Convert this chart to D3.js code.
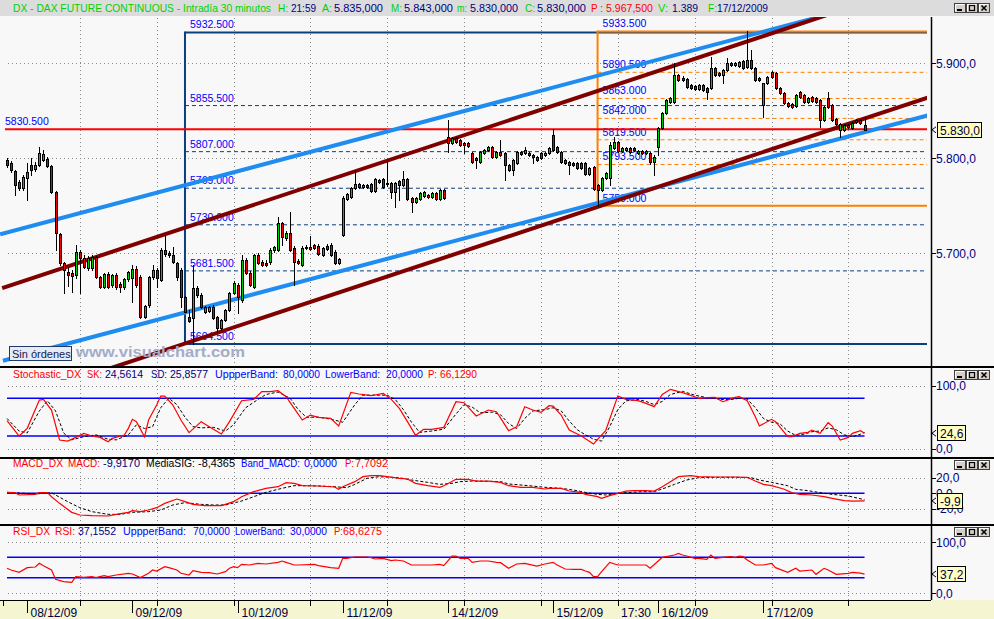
<!DOCTYPE html>
<html><head><meta charset="utf-8">
<script src="https://cdn.jsdelivr.net/npm/d3@7/dist/d3.min.js"></script>
<style>
html,body{margin:0;padding:0;background:#f8f8f8;overflow:hidden}
svg{display:block;font-family:"Liberation Sans",Arial,sans-serif}
</style></head><body>
<svg id="c" width="994" height="619"></svg>
<script>
// ---------- DATA ----------
const opens = [5798,5795,5786.5,5775,5768.5,5779,5793,5788.5,5793,5798,
5799,5792,5764.5,5720.5,5690,5680.5,5679,5677,5701.5,5695,
5684.5,5684.5,5696,5675,5664.5,5678,5666.5,5677,5667.5,5664.5,
5673,5674,5683.5,5675,5633,5645.5,5675,5682.5,5672,5703.5,
5700.5,5698,5690,5682.5,5654,5633,5632,5663.5,5656,5638,
5639,5643.5,5633,5621.5,5630,5640.5,5658,5666.5,5651,5693,
5679,5664.5,5698,5691,5690,5691,5703.5,5703.5,5732,5716,
5721.5,5705.5,5692,5687.5,5706.5,5706.5,5708.5,5707.5,5698,5707.5,
5708.5,5701.5,5690,5719,5757,5759,5768.5,5773,5770,5772,
5773,5765.5,5777,5778,5774,5774,5764.5,5776,5772,5778,
5758,5754,5757,5760.5,5761.5,5759,5763.5,5757,5766.5,5822.5,
5816,5821.5,5819,5816,5816,5805.5,5800.5,5796,5805.5,5808.5,
5812,5801.5,5806.5,5805.5,5793,5787.5,5795,5806.5,5805.5,5805.5,
5803.5,5801.5,5805.5,5803.5,5805.5,5824.5,5812,5806.5,5798,5796,
5795,5795,5795,5795,5783.5,5791,5772,5766.5,5779,5779,
5811,5817,5807.5,5808.5,5811,5811,5805.5,5807.5,5805.5,5805.5,
5796,5812,5832,5847.5,5859,5859,5887.5,5884.5,5883.5,5877,
5876,5873,5877,5874,5874,5895,5890,5887.5,5893,5900.5,
5898,5897,5902.5,5896,5903.5,5895,5884.5,5856,5879,5891,
5890,5874,5868.5,5858,5857,5855,5870,5866.5,5859,5864.5,
5863.5,5861.5,5840.5,5863.5,5856,5841.5,5830,5830,5835,5832,
5840.5,5840.5,5835];
const highs = [5800.5,5797,5787.5,5777,5782.5,5795,5800.5,5796,5812,5808.5,
5801.5,5793,5765.5,5721.5,5691,5684.5,5682.5,5708.5,5703.5,5698,
5697,5698,5697,5676,5679,5680.5,5678,5679,5670,5674,
5681.5,5687.5,5686.5,5677,5645.5,5676,5687.5,5684.5,5705.5,5719,
5702.5,5706.5,5691,5684.5,5655,5640.5,5687.5,5665.5,5658,5644.5,
5644.5,5645.5,5634,5631,5641.5,5659,5671,5668.5,5698,5695,
5681.5,5699,5700.5,5693,5693,5705.5,5707.5,5738,5733,5723.5,
5743.5,5707.5,5694,5707.5,5708.5,5718,5710,5710,5706.5,5710,
5711,5703.5,5695,5760.5,5763.5,5770,5786.5,5774,5773,5773,
5774,5779,5778,5779,5796,5775,5775,5777,5786.5,5779,
5759,5759,5764.5,5765.5,5762.5,5764.5,5764.5,5767.5,5767.5,5840.5,
5822.5,5822.5,5820.5,5817,5817,5806.5,5801.5,5807.5,5810,5813,
5813,5807.5,5819,5806.5,5794,5799,5807.5,5807.5,5812,5806.5,
5804.5,5802.5,5806.5,5806.5,5812,5830.5,5813,5807.5,5799,5797,
5796,5796,5796,5796,5791,5792,5773,5780.5,5785.5,5817,
5822.5,5818,5812,5812,5812,5812,5808.5,5808.5,5808.5,5806.5,
5803.5,5833,5848.5,5862.5,5864.5,5900.5,5888.5,5886.5,5884.5,5878,
5877,5878,5878,5875,5906.5,5896,5891,5894,5905.5,5901.5,
5901.5,5902.5,5903.5,5933.5,5914,5896,5885.5,5857,5886.5,5892,
5891,5875,5870,5859,5858,5867.5,5871,5867.5,5864.5,5865.5,
5864.5,5862.5,5855,5870,5857,5842.5,5837,5836,5836,5838,
5841.5,5841.5,5843];
const lows = [5791,5785.5,5761.5,5766.5,5766.5,5756,5782.5,5786.5,5792,5797,
5791,5763.5,5703.5,5687.5,5658,5665.5,5659,5674,5658,5684.5,
5682.5,5682.5,5674,5663.5,5663.5,5663.5,5664.5,5662.5,5659,5662.5,
5671,5648.5,5664.5,5632,5632,5643.5,5673,5664.5,5671,5697,
5696,5690,5672,5643.5,5638,5627.5,5604.5,5654,5642.5,5637,
5638,5631,5617,5619,5628.5,5639,5657,5637,5648.5,5678,
5665.5,5663.5,5688.5,5686.5,5686.5,5688.5,5701.5,5702.5,5708.5,5714,
5702.5,5666.5,5688.5,5686.5,5704.5,5703.5,5704.5,5698,5697,5703.5,
5697,5688.5,5688.5,5718,5756,5758,5767.5,5768.5,5768.5,5768.5,
5764.5,5764.5,5774,5768.5,5771,5758,5748.5,5756,5771,5756,
5743.5,5753,5756,5759,5758,5758,5756,5756,5757,5806.5,
5815,5816,5813,5805.5,5812,5795,5790,5795,5804.5,5807.5,
5800.5,5800.5,5802.5,5777,5786.5,5782.5,5794,5803.5,5804.5,5802.5,
5795,5797,5799,5802.5,5804.5,5807.5,5805.5,5795,5794,5783.5,
5792,5788.5,5788.5,5782.5,5782.5,5766.5,5750,5765.5,5778,5772,
5810,5806.5,5806.5,5807.5,5805.5,5807.5,5804.5,5804.5,5804.5,5794,
5782.5,5803.5,5831,5846.5,5858,5858,5881.5,5881.5,5874,5873,
5872,5872,5871,5862.5,5873,5886.5,5886.5,5879,5892,5897,
5897,5896,5894,5895,5894,5881.5,5881.5,5843.5,5878,5884.5,
5873,5867.5,5857,5854,5853,5854,5863.5,5858,5858,5859,
5858,5833,5839,5853,5839,5835,5822.5,5828.5,5832,5831,
5837,5836,5830];
const closes = [5793,5787.5,5772,5768.5,5780.5,5785.5,5787.5,5793,5805.5,5804.5,
5792,5764.5,5721.5,5690,5682.5,5677,5676,5701.5,5695,5685.5,
5695,5696,5675,5664.5,5678,5664.5,5677,5664.5,5664.5,5673,
5680.5,5683.5,5666.5,5633,5644.5,5675,5682.5,5674,5703.5,5699,
5698,5691,5675,5654,5638,5628.5,5663.5,5656,5643.5,5643.5,
5643.5,5632,5621.5,5630,5640.5,5658,5668.5,5654,5693,5679,
5666.5,5698,5690,5687.5,5687.5,5703.5,5706.5,5732,5717,5721.5,
5703.5,5691,5690,5705.5,5705.5,5704.5,5705.5,5699,5705.5,5704.5,
5698,5690,5694,5758,5762.5,5768.5,5773,5770,5772,5770,
5765.5,5778,5775,5770,5773,5764.5,5774,5772,5778,5757,
5754,5758,5763.5,5764.5,5759,5763.5,5757,5766.5,5758,5816,
5821.5,5817,5814,5814,5813,5796,5798,5806.5,5808.5,5812,
5801.5,5806.5,5803.5,5793,5787.5,5798,5806.5,5804.5,5808.5,5803.5,
5801.5,5798,5800.5,5805.5,5811,5808.5,5806.5,5796,5795,5793,
5793,5790,5790,5783.5,5790,5767.5,5766.5,5779,5784.5,5814,
5817,5807.5,5811,5811,5806.5,5808.5,5807.5,5805.5,5807.5,5796,
5801.5,5832,5847.5,5861.5,5863.5,5887.5,5882.5,5882.5,5875,5874,
5873,5877,5872,5870,5895,5887.5,5887.5,5893,5900.5,5898,
5900.5,5901.5,5895,5903.5,5895,5882.5,5882.5,5879,5885.5,5885.5,
5874,5868.5,5858,5855,5854,5866.5,5864.5,5859,5863.5,5860.5,
5859,5840.5,5854,5854,5840.5,5836,5836,5835,5833,5837,
5838,5837,5830];

// Stochastic %K (red) and %D (black dashed): [bar, value]
const stochK = [[0,44.4],[3,20.1],[5,32.3],[8,77.2],[9,78.3],[11,61.4],[13,13.8],[15,12.2],[17,18],[19,24.3],[21,20.1],[23,18],[25,11.1],[26,16.4],[29,21.7],[30,32.3],[31,46.6],[32,42.9],[34,19],[35,45.5],[37,69.3],[38,83.6],[39,83.6],[41,69.3],[43,45.5],[45,25.4],[48,42.9],[50,34.9],[53,23.3],[55,42.9],[58,76.2],[61,78.3],[63,90.5],[65,90.5],[67,92.1],[69,82.5],[71,64],[73,45.5],[75,53.4],[77,49.7],[80,48.1],[82,36],[85,89.4],[87,86.8],[90,84.1],[93,87.8],[95,78.3],[97,64],[99,42.9],[101,21.2],[103,30.7],[105,30.7],[108,33.9],[111,74.6],[113,73],[116,51.9],[119,61.4],[121,58.7],[122,49],[124,28.6],[126,34.9],[128,66.7],[130,61.4],[132,57.7],[134,68.3],[135,67.7],[137,53.4],[139,29.6],[141,23.3],[142,20.1],[145,7.4],[146,14.8],[148,28.6],[151,83.6],[153,78.3],[156,76.2],[158,72],[160,66.7],[162,86.2],[164,94.2],[167,88.9],[170,82.5],[171,79.9],[173,81],[175,81.5],[177,74.6],[180,81.5],[181,82.5],[183,76.2],[185,50.8],[186,36],[189,46.6],[190,42.9],[192,27],[193,19],[194,19],[196,24.3],[198,25.9],[199,29.6],[201,24.3],[203,41.3],[204,36],[206,13.8],[208,18],[209,24.3],[211,28.6],[212,24.56]];
const stochD = [[0,48],[3,28],[5,25],[8,60],[10,76],[12,60],[14,25],[16,14],[19,19],[22,22],[25,15],[27,14],[30,22],[32,38],[34,32],[36,35],[38,65],[40,80],[42,70],[44,50],[46,35],[48,33],[51,34],[54,28],[56,38],[59,65],[62,78],[64,86],[67,90],[70,80],[72,62],[74,50],[77,50],[80,47],[83,42],[86,70],[88,85],[91,85],[94,85],[96,78],[98,62],[100,42],[102,26],[105,28],[108,31],[111,55],[113,70],[115,66],[117,57],[120,58],[122,54],[124,40],[126,32],[128,48],[130,60],[133,62],[135,65],[137,60],[139,44],[141,30],[143,22],[145,15],[147,12],[149,35],[151,62],[153,76],[156,78],[158,75],[160,70],[162,75],[164,86],[167,91],[170,85],[173,81],[175,80],[177,78],[179,78],[181,80],[183,79],[185,65],[187,48],[189,42],[191,40],[193,28],[195,21],[197,23],[199,27],[201,28],[203,33],[205,30],[207,22],[209,19],[211,23],[212,25.86]];
// MACD (red) and signal (black dashed)
const macdLine = [[0,1.1],[2,0.7],[3,-2.3],[7,-1.5],[8,0.7],[10,0.7],[11,-4.5],[13,-13.1],[16,-24.7],[18,-28.1],[21,-29],[25,-29.4],[27,-27.3],[30,-24.7],[31,-22.5],[33,-23.8],[35,-21.7],[37,-18.7],[39,-13.1],[42,-7.5],[44,-10.9],[46,-14.4],[49,-16.1],[53,-16.1],[54,-14.4],[56,-10.9],[58,-4.5],[61,2],[64,6.3],[67,8.4],[69,13.6],[71,12.7],[73,9.7],[77,9.3],[81,8],[82,5],[83,8.4],[86,14.9],[88,21.3],[90,22.6],[92,22.6],[94,21.3],[97,19.2],[99,18.3],[101,12.7],[104,9.7],[107,7.6],[108,9.7],[111,17.9],[114,17.9],[116,15.7],[119,15.7],[122,14],[124,9.7],[127,7.6],[130,7.6],[133,5.4],[134,6.3],[137,6.3],[139,2.8],[142,1.1],[143,-1.5],[146,-4.5],[147,-6.6],[149,-3.2],[151,-0.2],[153,2.8],[155,3.3],[158,3.3],[160,2.8],[162,8.4],[164,14.9],[166,21.3],[169,22.6],[171,21.3],[175,20.9],[180,20.9],[183,20.5],[185,15.7],[187,11.4],[189,9.7],[192,5.4],[194,0.7],[196,-1.5],[199,-2.3],[202,-4.5],[204,-6.6],[207,-9.6],[209,-10.1],[212,-9.92]];
const macdSignal = [[0,1.1],[7,-1],[11,0.7],[12,-2.3],[15,-10.9],[18,-18.7],[21,-23.8],[25,-27.3],[28,-27.3],[31,-24.7],[35,-23.8],[38,-21.7],[41,-15.2],[44,-12.2],[48,-14.4],[51,-15.2],[54,-15.2],[58,-10.1],[61,-4.5],[64,1.1],[68,6.3],[71,9.7],[74,9.7],[77,9.3],[81,8.4],[84,7.1],[86,11.4],[89,19.2],[92,21.3],[97,20],[100,17],[104,14],[107,11.4],[110,12.7],[112,14.9],[115,15.7],[122,15],[124,11.9],[129,9.7],[133,7.6],[137,6.3],[140,4.1],[143,1.1],[146,-1.5],[148,-2.3],[151,-0.2],[153,0.7],[157,2],[160,2],[162,5.4],[165,11.4],[168,17],[171,20],[175,20.5],[180,20.5],[184,20],[186,17],[189,14],[193,9.7],[195,5],[198,3.3],[201,0.7],[204,-1.5],[208,-3.6],[212,-8.44]];
// RSI
const rsiLine = [[0,48.4],[1,45.1],[3,40.5],[5,49.7],[7,51],[8,58.2],[9,53.6],[11,45.1],[12,26.8],[14,22.2],[16,20.9],[17,32],[19,30.7],[21,32],[22,30.1],[24,34],[25,32],[27,35.3],[30,38.6],[31,37.3],[33,30.1],[35,38.6],[36,45.1],[37,43.1],[39,51.6],[40,49.7],[42,45.1],[43,38.6],[45,35.3],[46,43.8],[48,40.5],[50,39.9],[52,37.3],[54,41.8],[55,48.4],[56,51.6],[57,49.7],[58,56.2],[60,54.9],[62,58.2],[64,56.9],[67,60.1],[68,62.7],[69,60.1],[71,54.9],[72,54.9],[76,56.2],[77,53.6],[80,49.7],[82,48.4],[83,68],[84,68],[86,70.6],[89,70.6],[90,69.3],[91,66.7],[93,68],[95,63.4],[96,64.7],[98,62.7],[100,54.9],[102,54.9],[105,54.9],[107,56.2],[108,53.6],[110,72.5],[111,72.5],[112,68],[114,68],[115,60.1],[117,62.7],[119,62.7],[121,60.1],[122,59.5],[124,48.4],[126,56.9],[128,58.2],[131,52.9],[133,56.9],[135,60.1],[136,54.9],[138,47.1],[140,46.4],[142,46.4],[143,43.1],[144,40.5],[145,32],[146,32],[147,41.8],[149,60.1],[151,54.9],[154,54.9],[158,54.9],[159,48.4],[161,62.7],[162,69.9],[165,74.5],[166,77.8],[167,74.5],[168,72.5],[170,68],[171,68],[173,66],[174,74.5],[175,68],[177,69.9],[179,71.2],[180,69.3],[181,72.5],[182,71.2],[183,64.7],[185,54.9],[187,54.9],[189,58.2],[190,49.7],[193,40.5],[195,48.4],[196,43.1],[199,45.1],[200,36.6],[202,48.4],[203,45.1],[205,36.6],[208,38.6],[209,40.5],[211,39],[212,37.16]];

// annotations
const lastPriceLine = 5830.5, lastPriceLabel = "5830.500";
const fibBlueBar = 44;
const fibBlueLevels = [5932.5,5855.5,5807,5768.5,5730,5681.5,5604.5];
const fibBlueLabels = ["5932.500","5855.500","5807.000","5769.000","5730.000","5681.500","5604.500"];
const fibOrangeBar = 146;
const fibOrangeLevels = [5933.5,5890.5,5863,5842,5819.5,5793.5,5750];
const fibOrangeLabels = ["5933.500","5890.500","5863.000","5842.000","5819.500","5793.500","5750.000"];
// trend channels: [bar1, price1, bar2, price2]
const channelBlueUpper = [-1.7, 5720, 210, 5959.3];
const channelBlueLower = [-1, 5586.9, 228, 5845.6];
const channelRedUpper = [-1.2, 5663.3, 210, 5961.1];
const channelRedLower = [0, 5543, 228, 5864.5];

const dayStarts = [5,31,57,83,109,135,161,187];
const dayLabels = ["08/12/09","09/12/09","10/12/09","11/12/09","14/12/09","15/12/09","16/12/09","17/12/09"];
const gridBars = [18,37,56,75,94,113,132,151,170,189,208];
const timeLabelBar = 151, timeLabel = "17:30";
const priceTicks = [5700,5800,5900];
const priceTickLabels = ["5.700,0","5.800,0","5.900,0"];

// ---------- DRAW ----------
const svg = d3.select("#c");
const W = 994, H = 619;
const PR = 927, AX = 931;
const P_TOP = 17, P_BOT = 366;
const S_TOP = 368, S_BOT = 457;
const M_TOP = 459, M_BOT = 524;
const R_TOP = 526, R_BOT = 600;
const NAVY = "#000080", GREEN = "#00d000", RED = "#ff0000", BLUE = "#0000ff";

const x = d3.scaleLinear().domain([0, 212]).range([7, 7 + 212 * 4.045]);
const yP = d3.scaleLinear().domain([5700, 5900]).range([253.3, 63.3]);
const yS = d3.scaleLinear().domain([0, 100]).range([448.7, 385.7]);
const yM = d3.scaleLinear().domain([-20, 20]).range([508.7, 477.7]);
const yR = d3.scaleLinear().domain([0, 100]).range([593, 542]);

svg.append("rect").attr("width", W).attr("height", H).attr("fill", "#f8f8f8");
svg.append("rect").attr("x",0).attr("y",0).attr("width",W).attr("height",16).attr("fill","#dcdcdc");

const defs = svg.append("defs");
function clip(id, y0, y1) {
  defs.append("clipPath").attr("id", id).append("rect").attr("x", 0).attr("y", y0).attr("width", PR).attr("height", y1 - y0);
}
clip("cp", P_TOP, P_BOT); clip("cs", S_TOP, S_BOT); clip("cm", M_TOP, M_BOT); clip("cr", R_TOP, R_BOT);

function txt(g, s, xx, yy, fill, size, opts = {}) {
  const t = g.append("text").attr("x", xx).attr("y", yy).attr("fill", fill)
    .attr("font-size", size).text(s);
  if (opts.len) t.attr("textLength", opts.len).attr("lengthAdjust", "spacingAndGlyphs");
  if (opts.weight) t.attr("font-weight", opts.weight);
  return t;
}

// header: [text, x, colour, width, size]
const hdr = svg.append("g");
[["DX - DAX FUTURE CONTINUOUS - Intradía 30 minutos", 13, GREEN, 258, 10.5],
 ["H:", 278, GREEN, 10], ["21:59", 291, NAVY, 25], ["A:", 322, GREEN, 10], ["5.835,000", 334, NAVY, 49],
 ["M:", 391, GREEN, 11], ["5.843,000", 404, NAVY, 49], ["m:", 457, GREEN, 10], ["5.830,000", 470, NAVY, 48],
 ["C:", 525, GREEN, 10], ["5.830,000", 537, NAVY, 49], ["P :", 591, RED, 12], ["5.967,500", 606, RED, 47],
 ["V:", 658, GREEN, 10], ["1.389", 672, NAVY, 26], ["F:", 708, GREEN, 9], ["17/12/2009", 717, NAVY, 51]
].forEach(d => txt(hdr, d[0], d[1], 11.5, d[2], d[4] || 11, {len: d[3]}));

// window buttons
function buttons(y) {
  const g = svg.append("g");
  [954, 966, 978].forEach((bx, k) => {
    g.append("rect").attr("x", bx + 0.5).attr("y", y + 0.5).attr("width", 11).attr("height", 9)
      .attr("fill", "#d4d0c8").attr("stroke", "#404040");
    g.append("path").attr("d", `M${bx+1.5},${y+8.5}V${y+1.5}H${bx+10.5}`).attr("stroke", "#fff").attr("fill", "none");
    if (k === 0) g.append("rect").attr("x", bx + 3).attr("y", y + 6).attr("width", 5).attr("height", 2).attr("fill", "#000");
    if (k === 1) g.append("rect").attr("x", bx + 3.5).attr("y", y + 2.5).attr("width", 5).attr("height", 5)
      .attr("fill", "none").attr("stroke", "#000").attr("stroke-width", 1.2);
    if (k === 2) g.append("path").attr("d", `M${bx+3.5},${y+2.5}L${bx+8.5},${y+7.5}M${bx+8.5},${y+2.5}L${bx+3.5},${y+7.5}`)
      .attr("stroke", "#000").attr("stroke-width", 1.5);
  });
}
buttons(3); buttons(370); buttons(460); buttons(527);

// grid
const grid = svg.append("g").attr("stroke", "#8a8a8a").attr("stroke-dasharray", "1,3").attr("stroke-width", 1);
[[P_TOP, P_BOT], [S_TOP, S_BOT], [M_TOP, M_BOT], [R_TOP, R_BOT]].forEach(([a, b]) => {
  gridBars.forEach(bi => grid.append("line").attr("x1", Math.round(x(bi)) + 0.5).attr("x2", Math.round(x(bi)) + 0.5)
    .attr("y1", a + 1).attr("y2", b));
});
priceTicks.forEach(p => grid.append("line").attr("x1", 8).attr("x2", PR).attr("y1", Math.round(yP(p)) + 0.5).attr("y2", Math.round(yP(p)) + 0.5));
[[yS, 0], [yS, 100], [yM, 20], [yM, -20], [yR, 0], [yR, 100]].forEach(([s, v]) =>
  grid.append("line").attr("x1", 8).attr("x2", PR).attr("y1", Math.round(s(v)) + 0.5).attr("y2", Math.round(s(v)) + 0.5));

// price panel
const pp = svg.append("g").attr("clip-path", "url(#cp)");
function fib(bar, levels, labels, color) {
  const g = pp.append("g");
  const x0 = x(bar);
  levels.forEach((lv, k) => {
    const yy = yP(lv);
    const solid = (k === 0 || k === levels.length - 1);
    g.append("line").attr("x1", x0).attr("x2", PR).attr("y1", yy).attr("y2", yy)
      .attr("stroke", color).attr("stroke-width", solid ? 2 : 1)
      .attr("stroke-dasharray", solid ? null : "4,3");
    txt(g, labels[k], x0 + 5, yy - 4, BLUE, 10.5);
  });
  g.append("line").attr("x1", x0).attr("x2", x0).attr("y1", yP(levels[0]) - 1).attr("y2", yP(levels[levels.length - 1]) + 1)
    .attr("stroke", color).attr("stroke-width", 2);
}
fib(fibBlueBar, fibBlueLevels, fibBlueLabels, "#0b3f80");
fib(fibOrangeBar, fibOrangeLevels, fibOrangeLabels, "#ff8000");

pp.append("line").attr("x1", 5).attr("x2", PR).attr("y1", yP(lastPriceLine)).attr("y2", yP(lastPriceLine))
  .attr("stroke", RED).attr("stroke-width", 2);
txt(pp, lastPriceLabel, 5, yP(lastPriceLine) - 4, BLUE, 10.5);

[[channelBlueUpper, "#1e8cf0"], [channelBlueLower, "#1e8cf0"], [channelRedUpper, "#800000"], [channelRedLower, "#800000"]]
  .forEach(([c, col]) => pp.append("line").attr("x1", x(c[0])).attr("y1", yP(c[1])).attr("x2", x(c[2])).attr("y2", yP(c[3]))
    .attr("stroke", col).attr("stroke-width", 4));

const bars = opens.map((o, i) => ({ i, o, h: highs[i], l: lows[i], c: closes[i] }));
const cg = pp.append("g");
bars.forEach(b => {
  const cx = Math.round(x(b.i));
  const yh = Math.round(yP(b.h)), yl = Math.round(yP(b.l));
  cg.append("line").attr("x1", cx + 0.5).attr("x2", cx + 0.5).attr("y1", yh).attr("y2", yl + 1)
    .attr("stroke", "#000").attr("stroke-width", 1);
  const yt = Math.round(yP(Math.max(b.o, b.c))), yb = Math.round(yP(Math.min(b.o, b.c)));
  const up = b.c >= b.o;
  cg.append("rect").attr("x", cx - 0.5).attr("y", yt + 0.5).attr("width", 2).attr("height", Math.max(0, yb - yt))
    .attr("fill", up ? "#00c800" : "#f00000").attr("stroke", "#000").attr("stroke-width", 1);
});

svg.append("text").attr("x", 76).attr("y", 357).attr("font-size", 15).attr("font-weight", "bold")
  .attr("fill", "#a4acc8").attr("textLength", 169).attr("lengthAdjust", "spacingAndGlyphs").text("www.visualchart.com");
svg.append("rect").attr("x", 9.5).attr("y", 346.5).attr("width", 62).attr("height", 14)
  .attr("fill", "#e6ebf5").attr("stroke", "#203a6a");
svg.append("text").attr("x", 12).attr("y", 357.5).attr("font-size", 11).attr("fill", "#102050").text("Sin órdenes");

// separators
[366, 457, 524].forEach(yy => svg.append("rect").attr("x", 0).attr("y", yy).attr("width", W).attr("height", 2).attr("fill", "#000"));

// indicators
const lineGen = s => d3.line().x(d => x(d[0])).y(d => s(d[1]));
function band(g, s, v) {
  g.append("line").attr("x1", x(0)).attr("x2", x(212)).attr("y1", s(v)).attr("y2", s(v))
    .attr("stroke", BLUE).attr("stroke-width", 1.5);
}
const sp = svg.append("g").attr("clip-path", "url(#cs)");
band(sp, yS, 80); band(sp, yS, 20);
sp.append("path").attr("d", lineGen(yS)(stochD)).attr("fill", "none").attr("stroke", "#000").attr("stroke-dasharray", "3,2");
sp.append("path").attr("d", lineGen(yS)(stochK)).attr("fill", "none").attr("stroke", RED).attr("stroke-width", 1.2);

const mp = svg.append("g").attr("clip-path", "url(#cm)");
band(mp, yM, 0);
mp.append("path").attr("d", lineGen(yM)(macdSignal)).attr("fill", "none").attr("stroke", "#000").attr("stroke-dasharray", "3,2");
mp.append("path").attr("d", lineGen(yM)(macdLine)).attr("fill", "none").attr("stroke", RED).attr("stroke-width", 1.2);

const rp = svg.append("g").attr("clip-path", "url(#cr)");
band(rp, yR, 70); band(rp, yR, 30);
rp.append("path").attr("d", lineGen(yR)(rsiLine)).attr("fill", "none").attr("stroke", RED).attr("stroke-width", 1.2);

// indicator headers: [text, x, colour, width]
function header(items, yy) {
  const g = svg.append("g");
  items.forEach(d => txt(g, d[0], d[1], yy, d[2], 10.5, {len: d[3]}));
}
header([["Stochastic_DX", 13, RED, 68], ["SK:", 87, RED, 15], ["24,5614", 105, NAVY, 38], ["SD:", 151, NAVY, 16], ["25,8577", 170, NAVY, 38],
  ["UppperBand:", 215, BLUE, 63], ["80,0000", 283, BLUE, 37], ["LowerBand:", 325, BLUE, 55], ["20,0000", 386, BLUE, 37],
  ["P:", 428, RED, 9], ["66,1290", 440, RED, 37]], 378);
header([["MACD_DX", 13, RED, 50], ["MACD:", 68, RED, 32], ["-9,9170", 103, NAVY, 37], ["MediaSIG:", 146, "#000", 49], ["-8,4365", 198, "#000", 37],
  ["Band_MACD:", 241, BLUE, 59], ["0,0000", 304, BLUE, 33], ["P:", 345, RED, 9], ["7,7092", 355, RED, 33]], 467);
header([["RSI_DX", 13, RED, 37], ["RSI:", 55, RED, 20], ["37,1552", 78, NAVY, 38], ["UppperBand:", 123, BLUE, 63], ["70,0000", 193, BLUE, 37],
  ["LowerBand:", 235, BLUE, 50], ["30,0000", 290, BLUE, 37], ["P:", 334, RED, 9], ["68,6275", 343, RED, 39]], 535);

// right axes
const ax = svg.append("g");
ax.append("line").attr("x1", AX + 0.5).attr("x2", AX + 0.5).attr("y1", P_TOP).attr("y2", R_BOT).attr("stroke", "#000").attr("stroke-width", 1.5);
function axLabel(yy, s) {
  ax.append("line").attr("x1", AX).attr("x2", AX + 5).attr("y1", Math.round(yy) + 0.5).attr("y2", Math.round(yy) + 0.5).attr("stroke", "#000");
  txt(ax, s, AX + 5, yy + 4.5, NAVY, 12);
}
priceTicks.forEach((p, k) => axLabel(yP(p), priceTickLabels[k]));
axLabel(yS(100), "100,0"); axLabel(yS(0), "0,0");
axLabel(yM(20), "20,0"); axLabel(yM(0), "0,0"); axLabel(yM(-20), "-20,0");
axLabel(yR(100), "100,0"); axLabel(yR(0), "0,0");

function tag(yy, s, w) {
  ax.append("path").attr("d", `M936,${yy - 3}L932,${yy}L936,${yy + 3}`).attr("fill", "none").attr("stroke", "#000");
  ax.append("rect").attr("x", 937.5).attr("y", Math.round(yy) - 7.5).attr("width", w).attr("height", 15)
    .attr("fill", "#ffffc0").attr("stroke", "#000");
  txt(ax, s, 940, Math.round(yy) + 4.5, "#000040", 12);
}
tag(yP(closes[closes.length - 1]), "5.830,0", 44);
tag(yS(24.5614), "24,6", 28);
tag(yM(-9.917), "-9,9", 25);
tag(yR(37.1552), "37,2", 28);

// x axis
const xa = svg.append("g");
xa.append("rect").attr("x", 0).attr("y", R_BOT).attr("width", W).attr("height", H - R_BOT).attr("fill", "#f5f5d2");
xa.append("line").attr("x1", 0).attr("x2", AX).attr("y1", R_BOT + 0.5).attr("y2", R_BOT + 0.5).attr("stroke", "#000");
[-1].concat(gridBars).forEach(bi => xa.append("line").attr("x1", Math.round(x(bi)) + 0.5).attr("x2", Math.round(x(bi)) + 0.5)
  .attr("y1", R_BOT).attr("y2", R_BOT + 6).attr("stroke", "#000"));
dayStarts.forEach((bi, k) => {
  const xx = Math.round(x(bi)) + 0.5;
  xa.append("line").attr("x1", xx).attr("x2", xx).attr("y1", R_BOT).attr("y2", R_BOT + 13).attr("stroke", "#000");
  txt(xa, dayLabels[k], xx + 3, 617, "#000040", 12);
});
txt(xa, timeLabel, Math.round(x(timeLabelBar)) + 3, 617, "#000040", 12);
</script>
</body></html>
